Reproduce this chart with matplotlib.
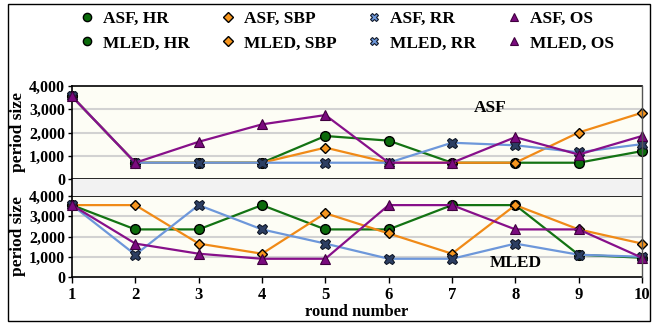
import matplotlib
matplotlib.use("Agg")
import matplotlib.pyplot as plt
from matplotlib.patches import Rectangle
from matplotlib.lines import Line2D

plt.rcParams['font.family'] = ['Liberation Serif', 'DejaVu Serif']
plt.rcParams['font.weight'] = 'bold'

rounds = [1, 2, 3, 4, 5, 6, 7, 8, 9, 10]

asf_hr  = [3550, 700, 700, 700, 1850, 1650, 700, 700, 700, 1200]
asf_sbp = [3550, 700, 700, 700, 1350, 700, 700, 700, 2000, 2850]
asf_rr  = [3550, 700, 700, 700, 700, 700, 1560, 1450, 1150, 1500]
asf_os  = [3550, 700, 1600, 2350, 2750, 700, 700, 1800, 1050, 1850]

mled_hr  = [3550, 2350, 2350, 3550, 2350, 2350, 3550, 3550, 1100, 950]
mled_sbp = [3550, 3550, 1650, 1150, 3150, 2150, 1150, 3550, 2350, 1650]
mled_rr  = [3550, 1100, 3550, 2350, 1650, 900, 900, 1650, 1100, 1000]
mled_os  = [3550, 1650, 1150, 900, 900, 3550, 3550, 2350, 2350, 950]

yticks = [0, 1000, 2000, 3000, 4000]
ytick_labels = ['0', '1,000', '2,000', '3,000', '4,000']

styles = {
    'HR':  dict(color='#137313', marker='o', mfc='#0b6b0b', mec='black', ms=7, mew=1.0),
    'SBP': dict(color='#f08a17', marker='D', mfc='#f7961e', mec='black', ms=5.5, mew=1.0),
    'RR':  dict(color='#6d97da', marker='X', mfc='#2c3e62', mec='#101828', ms=7.5, mew=0.8),
    'OS':  dict(color='#87108a', marker='^', mfc='#7a0a7e', mec='#40003f', ms=6.5, mew=0.8),
}

W, H = 654, 323
fig = plt.figure(figsize=(W / 100, H / 100), dpi=100)

def frac(x0, y0, x1, y1):
    return [x0 / W, 1 - y1 / H, (x1 - x0) / W, (y1 - y0) / H]

bg = '#fdfdf5'
# outer border
fig.patches.append(Rectangle((8 / W, 1 - 321 / H), 642 / W, 317 / H, transform=fig.transFigure,
                             fill=False, edgecolor='black', lw=1.0))
# gray band between panels
fig.patches.append(Rectangle((72 / W, 1 - 196 / H), 570 / W, 17 / H, transform=fig.transFigure,
                             facecolor='#f2f2f2', edgecolor='none'))
# right edge of plot area
fig.add_artist(Line2D([642 / W, 642 / W], [1 - 277 / H, 1 - 86 / H], transform=fig.transFigure,
                      color='#555555', lw=1.0))
fig.add_artist(Line2D([72 / W, 72 / W], [1 - 196 / H, 1 - 179 / H], transform=fig.transFigure,
                      color='black', lw=1.2))

ax1 = fig.add_axes(frac(72, 86, 642, 179))
ax2 = fig.add_axes(frac(72, 196, 642, 277))

def draw(ax, series, label_prefix):
    ax.set_facecolor(bg)
    for y in [1000, 2000, 3000]:
        ax.axhline(y, color='#d2d2d2', lw=1.5, zorder=1)
    for key, vals in series:
        st = styles[key]
        ax.plot(rounds, vals, color=st['color'], lw=1.6, marker=st['marker'], ms=st['ms'],
                mfc=st['mfc'], mec=st['mec'], mew=st['mew'], zorder=3, clip_on=False,
                label=f'{label_prefix}, {key}')
    ax.set_xlim(1, 10)
    ax.set_ylim(0, 4000)
    ax.set_yticks(yticks)
    ax.set_yticklabels(ytick_labels, fontsize=11.5, fontweight='bold')
    ax.set_ylabel('period size', fontsize=12.5, fontweight='bold', labelpad=2)
    for s in ['left', 'top', 'bottom']:
        ax.spines[s].set_color('black')
        ax.spines[s].set_linewidth(1.2)
    ax.spines['right'].set_visible(False)
    ax.tick_params(axis='y', length=3, width=1, pad=2)

draw(ax1, [('HR', asf_hr), ('SBP', asf_sbp), ('RR', asf_rr), ('OS', asf_os)], 'ASF')
draw(ax2, [('HR', mled_hr), ('SBP', mled_sbp), ('RR', mled_rr), ('OS', mled_os)], 'MLED')

ax1.set_xticks([])
ax2.set_xticks(rounds)
ax2.set_xticklabels([str(r) for r in rounds], fontsize=12, fontweight='bold')
ax2.tick_params(axis='x', length=4, width=1, pad=3)
ax2.set_xlabel('round number', fontsize=12, fontweight='bold', labelpad=1)

fig.text(490 / W, 1 - 108 / H, 'ASF', ha='center', va='center', fontsize=12.5, fontweight='bold')
fig.text(516 / W, 1 - 263 / H, 'MLED', ha='center', va='center', fontsize=12.5, fontweight='bold')

# legend
h1, l1 = ax1.get_legend_handles_labels()
h2, l2 = ax2.get_legend_handles_labels()
handles, labels = [], []
for i in range(4):
    for l in (l1[i], l2[i]):
        key = l.split(', ')[1]
        st = styles[key]
        handles.append(Line2D([], [], linestyle='none', marker=st['marker'], ms=st['ms'] * 0.85,
                              mfc=st['mfc'] if key != 'RR' else '#6d97da',
                              mec=st['mec'], mew=st['mew']))
        labels.append(l)
fig.legend(handles, labels, ncol=4, loc='center', bbox_to_anchor=(347 / W, 1 - 31 / H),
           frameon=False, prop={'weight': 'bold', 'size': 12.5},
           handlelength=0.8, handletextpad=0.5, columnspacing=1.8, labelspacing=0.5)

fig.savefig('out.png', dpi=100)
